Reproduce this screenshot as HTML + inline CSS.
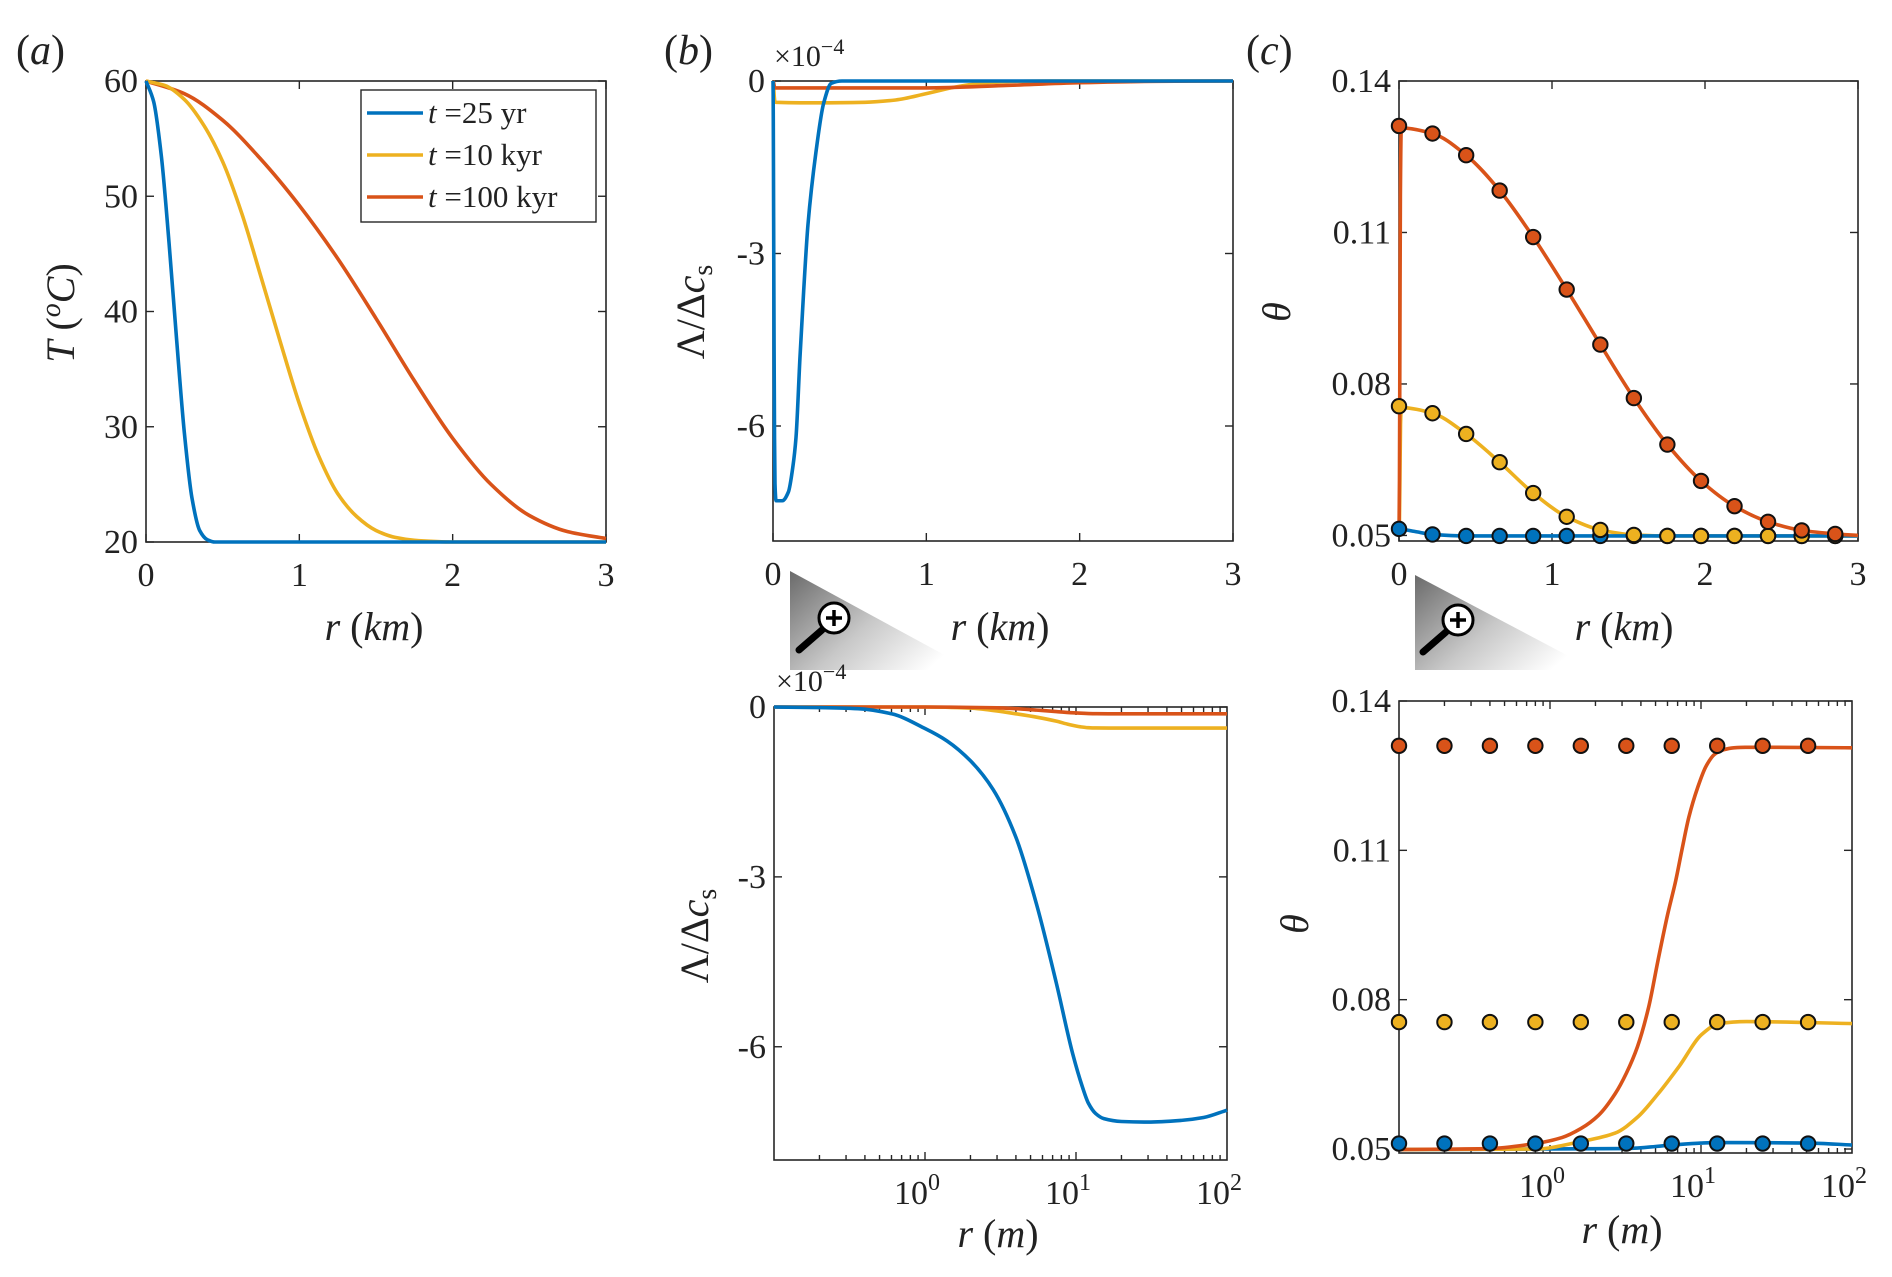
<!DOCTYPE html>
<html><head><meta charset="utf-8"><title>Figure</title>
<style>
html,body{margin:0;padding:0;background:#fff;}
svg{display:block;font-family:"Liberation Serif","DejaVu Serif",serif;}
</style></head>
<body>
<svg id="fig" width="1892" height="1277" viewBox="0 0 1892 1277" xmlns="http://www.w3.org/2000/svg">
<defs>
<linearGradient id="mg" x1="0" y1="0" x2="1" y2="0.6">
<stop offset="0" stop-color="#6a6a6a"/><stop offset="0.55" stop-color="#c8c8c8"/><stop offset="1" stop-color="#ffffff"/>
</linearGradient>
</defs>
</svg>
<script>
// ---------- DATA ----------
const seriesNames = ["t =25 yr", "t =10 kyr", "t =100 kyr"];
const colors = ["#0072BD", "#EDB120", "#D95319"];

// Panel (a): T (°C) vs r (km)
const aBlueR = [0,0.05,0.1,0.15,0.2,0.25,0.3,0.35,0.4,0.45,3];
const aBlueT = [60,58.2,53.5,46,37.5,29.5,23.8,21,20.2,20,20];
const aYelR = [0,0.125,0.25,0.375,0.5,0.625,0.75,0.875,1,1.125,1.25,1.375,1.5,1.625,1.75,1.875,2,3];
const aYelT = [60,59.6,58.4,56.2,53,48.5,43,37.4,32,27.5,24.2,22.2,21,20.4,20.15,20.05,20,20];
const aRedR = [0,0.25,0.5,0.75,1,1.25,1.5,1.75,2,2.25,2.5,2.75,3];
const aRedT = [60,58.9,56.6,53.2,49.2,44.6,39.4,34,29,25,22.3,20.9,20.3];
const aXTicks = [0,1,2,3];
const aYTicks = [20,30,40,50,60];

// Panel (b) top: Λ/Δc_s (×1e-4) vs r (km)
const bBlueR = [0,0.001,0.002,0.003,0.005,0.007,0.01,0.013,0.02,0.06,0.1,0.13,0.15,0.176,0.2,0.228,0.28,0.33,0.38,0.45,3];
const bBlueV = [0,-0.2,-0.77,-1.46,-3.1,-4.6,-6.2,-7.0,-7.3,-7.3,-7.15,-6.7,-6.2,-4.8,-3.65,-2.5,-1.24,-0.39,-0.04,0,0];
const bYelR = [0,0.002,0.005,0.008,0.012,0.02,0.3,0.6,0.8,1.0,1.2,1.4,1.6,1.8,3];
const bYelV = [0,-0.02,-0.13,-0.26,-0.35,-0.37,-0.38,-0.37,-0.33,-0.22,-0.1,-0.03,-0.005,0,0];
const bRedR = [0,0.004,0.01,0.015,1.0,1.5,2.0,2.5,3];
const bRedV = [0,-0.03,-0.11,-0.12,-0.12,-0.08,-0.03,-0.005,0];
const bXTicks = [0,1,2,3];
const bYTicks = [0,-3,-6];

// Panel (b) bottom: Λ/Δc_s (×1e-4) vs r (m), log axis
const blBlueR = [0.1,0.2,0.36,0.6,1,1.4,2,2.83,4,5.5,7.4,9.5,11,12.1,13.5,15.3,20,30,50,70,100];
const blBlueV = [0,-0.01,-0.03,-0.12,-0.38,-0.6,-0.95,-1.46,-2.3,-3.5,-4.87,-6.12,-6.7,-7.0,-7.18,-7.27,-7.32,-7.33,-7.3,-7.25,-7.12];
const blYelR = [0.1,1,2,3,4,5.5,7.4,9,10.7,12,13.6,20,30,100];
const blYelV = [0,0,-0.02,-0.07,-0.12,-0.18,-0.25,-0.31,-0.35,-0.365,-0.37,-0.372,-0.372,-0.372];
const blRedR = [0.1,1,3,4,5.5,7.4,10,13.6,20,30,100];
const blRedV = [0,0,-0.015,-0.03,-0.055,-0.08,-0.105,-0.118,-0.12,-0.12,-0.12];

// Panel (c) top: θ vs r (km)
const cMarkR = [0,0.219,0.439,0.658,0.877,1.096,1.316,1.535,1.754,1.974,2.193,2.412,2.632,2.851];
const cRedMark = [0.1311,0.1296,0.1253,0.1183,0.1091,0.0987,0.0878,0.0772,0.0680,0.0608,0.0558,0.0527,0.0510,0.0503];
const cYelMark = [0.0756,0.0742,0.0701,0.0645,0.0584,0.0537,0.0511,0.0501,0.0499,0.0499,0.0499,0.0499,0.0499,0.0499];
const cBlueMark = [0.0513,0.0502,0.0499,0.0499,0.0499,0.0499,0.0499,0.0499,0.0499,0.0499,0.0499,0.0499,0.0499,0.0499];
const cRedLineR = [0,0.003,0.006,0.009,0.015,0.219,0.439,0.658,0.877,1.096,1.316,1.535,1.754,1.974,2.193,2.412,2.632,2.851,3.0];
const cRedLineV = [0.0499,0.061,0.09,0.117,0.1307,0.1296,0.1253,0.1183,0.1091,0.0987,0.0878,0.0772,0.0680,0.0608,0.0558,0.0527,0.0510,0.0503,0.0500];
const cYelLineR = [0,0.003,0.006,0.01,0.015,0.219,0.439,0.658,0.877,1.096,1.316,1.535,1.754,3.0];
const cYelLineV = [0.0499,0.053,0.061,0.072,0.0753,0.0742,0.0701,0.0645,0.0584,0.0537,0.0511,0.0501,0.0499,0.0499];
const cBlueLineR = [0,0.006,0.015,0.1,0.219,0.439,3.0];
const cBlueLineV = [0.0499,0.0508,0.0512,0.0508,0.0502,0.0499,0.0499];
const cXTicks = [0,1,2,3];
const cYTicks = [0.05,0.08,0.11,0.14];

// Panel (c) bottom: θ vs r (m), log axis
const clMarkR = [0.1,0.2,0.4,0.8,1.6,3.2,6.4,12.8,25.6,51.2];
const clRedMarkV = 0.131, clYelMarkV = 0.0755, clBlueMarkV = 0.0511;
const clRedR = [0.1,0.4,0.8,1.2,1.6,2.1,2.7,3.2,3.8,4.5,5.2,6,6.8,7.5,8.3,9.5,10.8,12.3,14.1,16.5,19.7,30,100];
const clRedV = [0.0499,0.0501,0.0511,0.0523,0.0541,0.0568,0.0611,0.0652,0.0706,0.0785,0.088,0.097,0.1039,0.1103,0.1166,0.1226,0.1269,0.1293,0.1302,0.1306,0.1307,0.1307,0.1306];
const clYelR = [0.1,0.8,1.6,2.7,3.8,5.2,7.2,10.1,13.2,20,100];
const clYelV = [0.0499,0.0500,0.0515,0.0532,0.0564,0.0611,0.0667,0.073,0.0752,0.0756,0.0752];
const clBlueR = [0.1,3.2,6.4,10,12.8,51.2,100];
const clBlueV = [0.0499,0.0501,0.0508,0.0512,0.0513,0.0512,0.0508];
const logXTicks = [1,10,100];
const logXExp = ["0","1","2"];

// ---------- DRAWING ----------
const NS = "http://www.w3.org/2000/svg";
const svg = document.getElementById("fig");
const AX = "#262626";

function mk(tag, parent) { const e = document.createElementNS(NS, tag); parent.appendChild(e); return e; }

function linScale(d0, d1, r0, r1) { return v => r0 + (v - d0) / (d1 - d0) * (r1 - r0); }
function logScale(d0, d1, r0, r1) { return v => r0 + (Math.log10(v) - Math.log10(d0)) / (Math.log10(d1) - Math.log10(d0)) * (r1 - r0); }

function monoPath(px, py) {
  const n = px.length;
  if (n < 2) return "";
  const dx = [], m = [], t = [];
  for (let i = 0; i < n - 1; i++) { dx.push(px[i+1]-px[i]); m.push(dx[i] === 0 ? 0 : (py[i+1]-py[i])/dx[i]); }
  t[0] = m[0]; t[n-1] = m[n-2];
  for (let i = 1; i < n - 1; i++) { t[i] = (m[i-1]*m[i] <= 0) ? 0 : 3*(dx[i-1]+dx[i]) / ((2*dx[i]+dx[i-1])/m[i-1] + (dx[i]+2*dx[i-1])/m[i]); }
  let d = "M" + px[0].toFixed(2) + "," + py[0].toFixed(2);
  for (let i = 0; i < n - 1; i++) {
    const h = dx[i] / 3;
    d += " C" + (px[i]+h).toFixed(2) + "," + (py[i]+t[i]*h).toFixed(2) + " " + (px[i+1]-h).toFixed(2) + "," + (py[i+1]-t[i+1]*h).toFixed(2) + " " + px[i+1].toFixed(2) + "," + py[i+1].toFixed(2);
  }
  return d;
}

function text(parent, x, y, str, size, anchor, italic) {
  const t = mk("text", parent);
  t.setAttribute("x", x); t.setAttribute("y", y);
  t.setAttribute("font-size", size);
  t.setAttribute("text-anchor", anchor || "middle");
  t.setAttribute("fill", "#222");
  if (italic) t.setAttribute("font-style", "italic");
  t.textContent = str;
  return t;
}

function drawAxes(g, box, name) {
  const r = mk("rect", g);
  
  
  r.setAttribute("x", box.x0); r.setAttribute("y", box.y0);
  r.setAttribute("width", box.x1 - box.x0); r.setAttribute("height", box.y1 - box.y0);
  r.setAttribute("fill", "none"); r.setAttribute("stroke", AX); r.setAttribute("stroke-width", "1.6");
}

function tickLine(g, x1, y1, x2, y2) {
  const l = mk("line", g);
  l.setAttribute("x1", x1); l.setAttribute("y1", y1); l.setAttribute("x2", x2); l.setAttribute("y2", y2);
  l.setAttribute("stroke", AX); l.setAttribute("stroke-width", "1.4");
  return l;
}

function drawSeries(g, xs, ys, sx, sy, color, name) {
  const p = mk("path", g);
  
  
  p.setAttribute("d", monoPath(xs.map(sx), ys.map(sy)));
  p.setAttribute("fill", "none"); p.setAttribute("stroke", color);
  p.setAttribute("stroke-width", "3.6"); p.setAttribute("stroke-linejoin", "round");
}

function drawMarkers(g, xs, ys, sx, sy, color, name) {
  for (let i = 0; i < xs.length; i++) {
    const c = mk("circle", g);
    
    
    c.setAttribute("cx", sx(xs[i])); c.setAttribute("cy", sy(Array.isArray(ys) ? ys[i] : ys));
    c.setAttribute("r", "7.2"); c.setAttribute("fill", color);
    c.setAttribute("stroke", "#111"); c.setAttribute("stroke-width", "2");
  }
}

function linXTicks(g, box, sx, ticks, name) {
  ticks.forEach(v => {
    const x = sx(v);
    tickLine(g, x, box.y1, x, box.y1 - 8);
    tickLine(g, x, box.y0, x, box.y0 + 8);
    const t = text(g, x, box.y1 + 44, String(v), 34, "middle");
    
    
  });
}
function linYTicks(g, box, sy, ticks, name, fmt) {
  ticks.forEach(v => {
    const y = sy(v);
    tickLine(g, box.x0, y, box.x0 + 8, y);
    tickLine(g, box.x1, y, box.x1 - 8, y);
    const t = text(g, box.x0 - 8, y + 11, fmt ? fmt(v) : String(v), 34, "end");
    
    
  });
}
function logXTicksDraw(g, box, sx, name) {
  for (let dec = -1; dec < 2; dec++) {
    for (let k = 1; k < 10; k++) {
      const v = k * Math.pow(10, dec);
      if (v <= 0.1 + 1e-9) continue;
      const x = sx(v);
      const len = k === 1 ? 8 : 5;
      tickLine(g, x, box.y1, x, box.y1 - len);
      tickLine(g, x, box.y0, x, box.y0 + len);
    }
  }
  logXTicks.forEach((v, i) => {
    const x = sx(v);
    const t = text(g, x - 8, box.y1 + 44, "10", 34, "middle");
    
    
    const s = mk("tspan", t);
    s.setAttribute("dy", "-14"); s.setAttribute("font-size", "24");
    s.textContent = logXExp[i];
  });
}

function panelLetter(x, y, letter, name) {
  const t = mk("text", svg);
  
  
  t.setAttribute("x", x); t.setAttribute("y", y); t.setAttribute("font-size", "42"); t.setAttribute("fill", "#222");
  t.appendChild(document.createTextNode("("));
  const s = mk("tspan", t); s.setAttribute("font-style", "italic"); s.textContent = letter;
  t.appendChild(document.createTextNode(")"));
}

function xLabel(g, x, y, unit, name) {
  const t = mk("text", g);
  
  
  t.setAttribute("x", x); t.setAttribute("y", y); t.setAttribute("font-size", "40");
  t.setAttribute("text-anchor", "middle"); t.setAttribute("fill", "#222");
  const a = mk("tspan", t); a.setAttribute("font-style", "italic"); a.textContent = "r";
  t.appendChild(document.createTextNode(" ("));
  const b = mk("tspan", t); b.setAttribute("font-style", "italic"); b.textContent = unit;
  t.appendChild(document.createTextNode(")"));
}

function lambdaLabel(g, x, y, name) {
  const t = mk("text", g);
  
  
  t.setAttribute("x", 0); t.setAttribute("y", 0); t.setAttribute("font-size", "40");
  t.setAttribute("text-anchor", "middle"); t.setAttribute("fill", "#222");
  t.setAttribute("transform", "translate(" + x + "," + y + ") rotate(-90)");
  t.appendChild(document.createTextNode("Λ/Δ"));
  const c = mk("tspan", t); c.setAttribute("font-style", "italic"); c.textContent = "c";
  const s = mk("tspan", t); s.setAttribute("font-size", "28"); s.setAttribute("dy", "8"); s.textContent = "s";
}

function thetaLabel(g, x, y, name) {
  const t = mk("text", g);
  
  
  t.setAttribute("x", 0); t.setAttribute("y", 0); t.setAttribute("font-size", "40");
  t.setAttribute("font-style", "italic"); t.setAttribute("text-anchor", "middle"); t.setAttribute("fill", "#222");
  t.setAttribute("transform", "translate(" + x + "," + y + ") rotate(-90)");
  t.textContent = "θ";
}

function expLabel(g, x, y, name) {
  const t = mk("text", g);
  
  
  t.setAttribute("x", x); t.setAttribute("y", y); t.setAttribute("font-size", "30"); t.setAttribute("fill", "#222");
  t.textContent = "×10";
  const s = mk("tspan", t); s.setAttribute("font-size", "22"); s.setAttribute("dy", "-12"); s.textContent = "−4";
}

function magnifier(g, x0, y0, w, h, cx, cy, name) {
  const p = mk("path", g);
  
  
  p.setAttribute("d", "M" + x0 + "," + y0 + " L" + x0 + "," + (y0 + h) + " L" + (x0 + w) + "," + (y0 + h) + " Z");
  p.setAttribute("fill", "url(#mg)");
  const hd = mk("line", g);
  hd.setAttribute("x1", cx - 12); hd.setAttribute("y1", cy + 12); hd.setAttribute("x2", cx - 35); hd.setAttribute("y2", cy + 32);
  hd.setAttribute("stroke", "#000"); hd.setAttribute("stroke-width", "7"); hd.setAttribute("stroke-linecap", "round");
  const c = mk("circle", g);
  
  
  c.setAttribute("cx", cx); c.setAttribute("cy", cy); c.setAttribute("r", "15");
  c.setAttribute("fill", "#fff"); c.setAttribute("stroke", "#000"); c.setAttribute("stroke-width", "3");
  const p1 = mk("path", g);
  p1.setAttribute("d", "M" + (cx - 8) + "," + cy + " H" + (cx + 8) + " M" + cx + "," + (cy - 8) + " V" + (cy + 8));
  p1.setAttribute("stroke", "#000"); p1.setAttribute("stroke-width", "3.5");
}

function group(name) {
  const g = mk("g", svg);
  
  
  return g;
}

// ----- Panel (a)
(function () {
  const g = group("panel-a");
  const box = { x0: 146, x1: 606, y0: 81, y1: 542 };
  const sx = linScale(0, 3, box.x0, box.x1), sy = linScale(20, 60, box.y1, box.y0);
  drawAxes(g, box, "panel-a");
  linXTicks(g, box, sx, aXTicks, "panel-a");
  linYTicks(g, box, sy, aYTicks, "panel-a");
  drawSeries(g, aRedR, aRedT, sx, sy, colors[2], "curve-100kyr");
  drawSeries(g, aYelR, aYelT, sx, sy, colors[1], "curve-10kyr");
  drawSeries(g, aBlueR, aBlueT, sx, sy, colors[0], "curve-25yr");
  xLabel(g, 374, 640, "km", "x-axis-title-a");
  const yl = mk("text", g);
  
  
  yl.setAttribute("font-size", "40"); yl.setAttribute("text-anchor", "middle"); yl.setAttribute("fill", "#222");
  yl.setAttribute("transform", "translate(74,313) rotate(-90)");
  const ti = mk("tspan", yl); ti.setAttribute("font-style", "italic"); ti.textContent = "T";
  yl.appendChild(document.createTextNode(" ("));
  const to = mk("tspan", yl); to.setAttribute("font-style", "italic"); to.setAttribute("font-size", "28"); to.setAttribute("dy", "-14"); to.textContent = "o";
  const tc = mk("tspan", yl); tc.setAttribute("font-style", "italic"); tc.setAttribute("dy", "14"); tc.textContent = "C";
  yl.appendChild(document.createTextNode(")"));
  // legend
  const lg = mk("g", g);
  
  
  const lr = mk("rect", lg);
  lr.setAttribute("x", 361); lr.setAttribute("y", 90); lr.setAttribute("width", 235); lr.setAttribute("height", 132);
  lr.setAttribute("fill", "#fff"); lr.setAttribute("stroke", AX); lr.setAttribute("stroke-width", "1.4");
  const ys = [113, 155, 197];
  const labels = [["25", "yr"], ["10", "kyr"], ["100", "kyr"]];
  for (let i = 0; i < 3; i++) {
    const e = mk("g", lg);
    
    
    const l = mk("line", e);
    l.setAttribute("x1", 367); l.setAttribute("x2", 423); l.setAttribute("y1", ys[i]); l.setAttribute("y2", ys[i]);
    l.setAttribute("stroke", colors[i]); l.setAttribute("stroke-width", "3.6");
    const t = mk("text", e);
    t.setAttribute("x", 428); t.setAttribute("y", ys[i] + 10); t.setAttribute("font-size", "31"); t.setAttribute("fill", "#222");
    const it = mk("tspan", t); it.setAttribute("font-style", "italic"); it.textContent = "t";
    t.appendChild(document.createTextNode(" =" + labels[i][0] + " " + labels[i][1]));
  }
})();

// ----- Panel (b) top
(function () {
  const g = group("panel-b-top");
  const box = { x0: 773, x1: 1233, y0: 81, y1: 541 };
  const sx = linScale(0, 3, box.x0, box.x1), sy = linScale(-8, 0, box.y1, box.y0);
  drawAxes(g, box, "panel-b-top");
  linXTicks(g, box, sx, bXTicks, "panel-b-top");
  linYTicks(g, box, sy, bYTicks, "panel-b-top");
  drawSeries(g, bYelR, bYelV, sx, sy, colors[1], "curve-10kyr");
  drawSeries(g, bRedR, bRedV, sx, sy, colors[2], "curve-100kyr");
  drawSeries(g, bBlueR, bBlueV, sx, sy, colors[0], "curve-25yr");
  expLabel(g, 774, 66, "exponent-label-b-top");
  lambdaLabel(g, 704, 312, "y-axis-title-b-top");
  magnifier(g, 790, 571, 182, 99, 834, 618, "magnifier-b");
  xLabel(g, 1000, 640, "km", "x-axis-title-b-top");
})();

// ----- Panel (c) top
(function () {
  const g = group("panel-c-top");
  const box = { x0: 1399, x1: 1858, y0: 81, y1: 541 };
  const sx = linScale(0, 3, box.x0, box.x1), sy = linScale(0.0489, 0.14, box.y1, box.y0);
  drawAxes(g, box, "panel-c-top");
  linXTicks(g, box, sx, cXTicks, "panel-c-top");
  linYTicks(g, box, sy, cYTicks, "panel-c-top", v => v.toFixed(2));
  drawSeries(g, cYelLineR, cYelLineV, sx, sy, colors[1], "curve-10kyr");
  drawSeries(g, cBlueLineR, cBlueLineV, sx, sy, colors[0], "curve-25yr");
  drawSeries(g, cRedLineR, cRedLineV, sx, sy, colors[2], "curve-100kyr");
  drawMarkers(g, cMarkR, cBlueMark, sx, sy, colors[0], "marker-25yr");
  drawMarkers(g, cMarkR, cYelMark, sx, sy, colors[1], "marker-10kyr");
  drawMarkers(g, cMarkR, cRedMark, sx, sy, colors[2], "marker-100kyr");
  thetaLabel(g, 1290, 312, "y-axis-title-c-top");
  magnifier(g, 1415, 575, 180, 95, 1458, 620, "magnifier-c");
  xLabel(g, 1624, 640, "km", "x-axis-title-c-top");
})();

// ----- Panel (b) bottom
(function () {
  const g = group("panel-b-bottom");
  const box = { x0: 774, x1: 1227, y0: 707, y1: 1160 };
  const sx = logScale(0.1, 100, box.x0, box.x1), sy = linScale(-8, 0, box.y1, box.y0);
  drawAxes(g, box, "panel-b-bottom");
  logXTicksDraw(g, box, sx, "panel-b-bottom");
  linYTicks(g, box, sy, bYTicks, "panel-b-bottom");
  drawSeries(g, blYelR, blYelV, sx, sy, colors[1], "curve-10kyr");
  drawSeries(g, blRedR, blRedV, sx, sy, colors[2], "curve-100kyr");
  drawSeries(g, blBlueR, blBlueV, sx, sy, colors[0], "curve-25yr");
  expLabel(g, 776, 691, "exponent-label-b-bottom");
  lambdaLabel(g, 708, 936, "y-axis-title-b-bottom");
  xLabel(g, 998, 1247, "m", "x-axis-title-b-bottom");
})();

// ----- Panel (c) bottom
(function () {
  const g = group("panel-c-bottom");
  const box = { x0: 1399, x1: 1852, y0: 701, y1: 1153 };
  const sx = logScale(0.1, 100, box.x0, box.x1), sy = linScale(0.0492, 0.14, box.y1, box.y0);
  drawAxes(g, box, "panel-c-bottom");
  logXTicksDraw(g, box, sx, "panel-c-bottom");
  linYTicks(g, box, sy, cYTicks, "panel-c-bottom", v => v.toFixed(2));
  drawSeries(g, clBlueR, clBlueV, sx, sy, colors[0], "curve-25yr");
  drawSeries(g, clYelR, clYelV, sx, sy, colors[1], "curve-10kyr");
  drawSeries(g, clRedR, clRedV, sx, sy, colors[2], "curve-100kyr");
  drawMarkers(g, clMarkR, clRedMarkV, sx, sy, colors[2], "marker-100kyr");
  drawMarkers(g, clMarkR, clYelMarkV, sx, sy, colors[1], "marker-10kyr");
  drawMarkers(g, clMarkR, clBlueMarkV, sx, sy, colors[0], "marker-25yr");
  thetaLabel(g, 1308, 924, "y-axis-title-c-bottom");
  xLabel(g, 1622, 1243, "m", "x-axis-title-c-bottom");
})();

panelLetter(16, 64, "a", "panel-label-a");
panelLetter(664, 64, "b", "panel-label-b");
panelLetter(1246, 64, "c", "panel-label-c");
</script>
</body></html>
